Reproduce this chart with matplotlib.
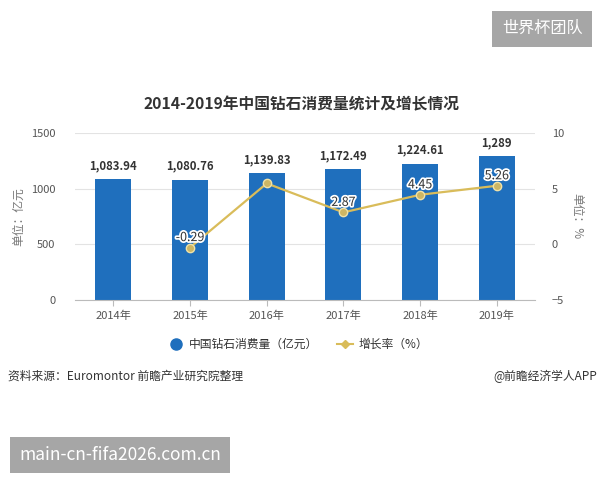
import numpy as np
import matplotlib.pyplot as plt
import matplotlib.patheffects as pe
from matplotlib.lines import Line2D

plt.rcParams['font.family'] = ['Noto Sans CJK SC', 'DejaVu Sans']

years = ['2014年', '2015年', '2016年', '2017年', '2018年', '2019年']
consumption = [1083.94, 1080.76, 1139.83, 1172.49, 1224.61, 1289]
growth_years = [1, 2, 3, 4, 5]
growth = [-0.29, 5.47, 2.87, 4.45, 5.26]
growth_labels = ['-0.29', '', '2.87', '4.45', '5.26']

bar_color = '#1f6fbd'
line_color = '#d9bc5a'
tick_color = '#555555'

fig = plt.figure(figsize=(6, 4.8), dpi=100)
ax = fig.add_axes([0.125, 0.375, 0.767, 0.348])

x = np.arange(len(years))
ax.bar(x, consumption, width=0.47, color=bar_color, zorder=2)
for xi, v in zip(x, consumption):
    txt = f'{v:,.2f}' if v != int(v) else f'{int(v):,}'
    ax.annotate(txt, (xi, v), xytext=(0, 5), textcoords='offset points',
                ha='center', va='bottom', fontsize=8.2, fontweight='bold', color='#333333')

ax.set_ylim(0, 1500)
ax.set_yticks([0, 500, 1000, 1500])
ax.set_xlim(-0.5, 5.5)
ax.set_xticks(x)
ax.set_xticklabels(years)
ax.grid(axis='y', color='#e3e3e3', linewidth=0.8, zorder=0)
for s in ['top', 'right', 'left']:
    ax.spines[s].set_visible(False)
ax.spines['bottom'].set_color('#bbbbbb')
ax.tick_params(axis='y', length=0, labelsize=8, labelcolor=tick_color, pad=14)
ax.tick_params(axis='x', length=4, color='#bbbbbb', labelsize=8, labelcolor=tick_color)
ax.set_ylabel('单位：亿元', fontsize=8.5, color='#777777', labelpad=4)

ax2 = ax.twinx()
ax2.plot(growth_years, growth, color=line_color, linewidth=1.6, marker='o',
         markersize=6, markerfacecolor='#cdb664', markeredgecolor='#f0e2a8', zorder=3)
for xi, v, lab in zip(growth_years, growth, growth_labels):
    if lab:
        ax2.annotate(lab, (xi, v), xytext=(0, 2.5), textcoords='offset points',
                     ha='center', va='bottom', fontsize=9, color='#333333',
                     path_effects=[pe.withStroke(linewidth=2.5, foreground='white')])
ax2.set_ylim(-5, 10)
ax2.set_yticks([-5, 0, 5, 10])
for s in ['top', 'right', 'left', 'bottom']:
    ax2.spines[s].set_visible(False)
ax2.tick_params(axis='y', length=0, labelsize=8, labelcolor=tick_color, pad=12)
ax2.set_ylabel('单位：%', fontsize=8.5, color='#777777', rotation=-90, labelpad=14)

fig.text(0.503, 0.782, '2014-2019年中国钻石消费量统计及增长情况', ha='center', va='center',
         fontsize=11.3, fontweight='bold', color='#333333')

handles = [Line2D([], [], marker='o', linestyle='none', markersize=8, color=bar_color),
           Line2D([], [], marker='D', color=line_color, markersize=4, linewidth=1.5)]
fig.legend(handles, ['中国钻石消费量（亿元）', '增长率（%）'], loc='center',
           bbox_to_anchor=(0.497, 0.282), ncol=2, frameon=False, fontsize=8.5,
           handlelength=1.3, handletextpad=0.5, columnspacing=1.6, labelcolor='#333333')

fig.text(0.013, 0.216, '资料来源：Euromontor 前瞻产业研究院整理', ha='left', va='center',
         fontsize=8.5, color='#333333')
fig.text(0.995, 0.216, '@前瞻经济学人APP', ha='right', va='center',
         fontsize=8.5, color='#333333')

fig.text(0.904, 0.94, '世界杯团队', ha='center', va='center', fontsize=11.6, color='white',
         bbox=dict(boxstyle='square,pad=0.6', facecolor='#a6a6a6', edgecolor='none'))
fig.text(0.2, 0.052, 'main-cn-fifa2026.com.cn', ha='center', va='center', fontsize=12.5,
         color='white',
         bbox=dict(boxstyle='square,pad=0.5', facecolor='#a6a6a6', edgecolor='none'))

fig.savefig('out.png', dpi=100)
